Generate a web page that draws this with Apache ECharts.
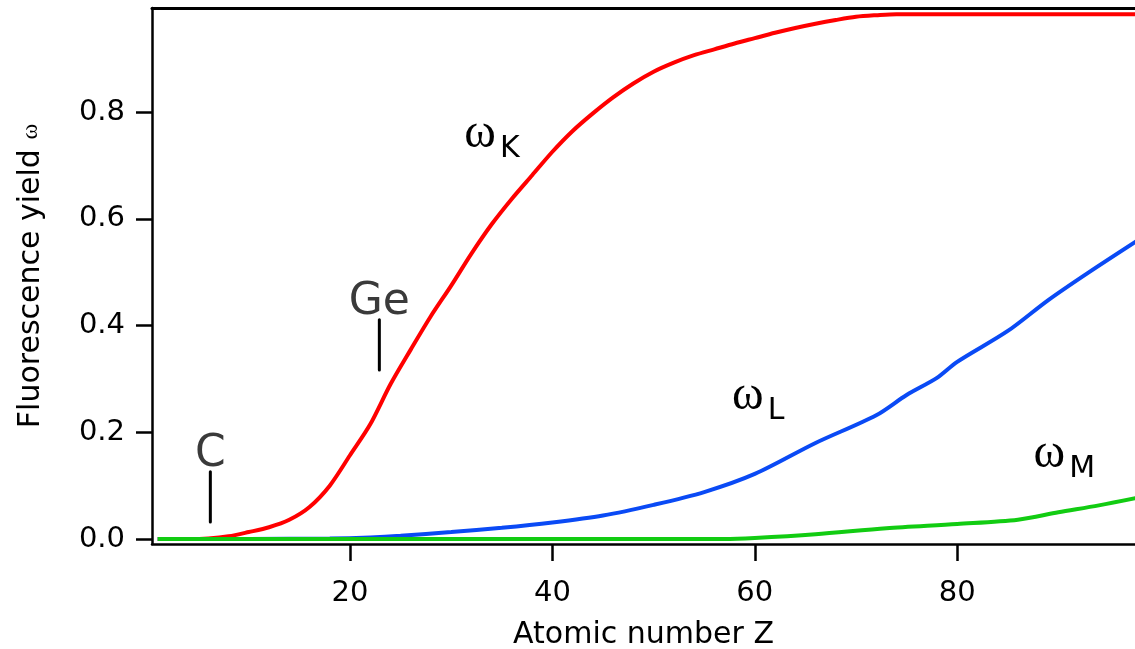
<!DOCTYPE html>
<html>
<head>
<meta charset="utf-8">
<script src="https://cdn.jsdelivr.net/npm/echarts@6/dist/echarts.min.js"></script>
<style>
  html, body { margin: 0; padding: 0; background: #ffffff; }
  #chart { width: 1135px; height: 649px; }
</style>
</head>
<body>
<div id="chart"></div>
<script>
// Fluorescence yields of the K, L and M shells against atomic number Z
const zK = [1, 4, 6, 8, 10, 12, 14, 16, 18, 20, 22, 24, 26, 28, 30, 32, 34, 36, 38, 40, 42, 44, 46, 48, 50, 52, 54, 56, 58, 60, 62, 64, 66, 68, 70, 72, 74, 80, 90, 98];
const omegaK = [0, 0, 0.001, 0.005, 0.013, 0.022, 0.036, 0.06, 0.1, 0.157, 0.215, 0.29, 0.355, 0.418, 0.475, 0.535, 0.59, 0.638, 0.682, 0.726, 0.765, 0.798, 0.828, 0.854, 0.876, 0.893, 0.907, 0.918, 0.929, 0.939, 0.949, 0.958, 0.966, 0.973, 0.979, 0.982, 0.984, 0.984, 0.984, 0.984];

const zL = [1, 10, 18, 22, 25, 30, 35, 40, 45, 50, 55, 60, 66, 72, 75, 78, 80, 85, 89, 93, 98];
const omegaL = [0, 0, 0.001, 0.003, 0.006, 0.013, 0.021, 0.031, 0.044, 0.064, 0.088, 0.122, 0.18, 0.232, 0.27, 0.302, 0.332, 0.39, 0.448, 0.5, 0.562];

const zM = [1, 57, 60, 66, 73, 80, 86, 90, 94, 98];
const omegaM = [0, 0, 0.002, 0.009, 0.02, 0.028, 0.036, 0.05, 0.063, 0.078];

const xTicks = [20, 40, 60, 80];
const yTicks = [0, 0.2, 0.4, 0.6, 0.8];

// shell labels: centre of the omega glyph in data units
const shellNames = ['K', 'L', 'M'];
const shellLabelPos = [[32.85, 0.759], [59.3, 0.267], [89.1, 0.159]];

// element markers: short vertical bars with the symbol above
const elementNames = ['C', 'Ge'];
const elementZ = [6.2, 22.9];
const elementBar = [[0.032, 0.126], [0.317, 0.411]];

const X_MIN = 0.435, X_MAX = 97.57;
const Y_MIN = -0.0094, Y_MAX = 0.9955;

const SANS = '"DejaVu Sans", sans-serif';
const SERIF = '"Liberation Serif", "DejaVu Serif", serif';

const zip = (xs, ys) => xs.map((x, i) => [x, ys[i]]);

const chart = echarts.init(document.getElementById('chart'), null, { renderer: 'canvas' });

const curveSeries = [
  { name: 'ωK', data: zip(zK, omegaK), color: '#ff0000' },
  { name: 'ωL', data: zip(zL, omegaL), color: '#0a4af5' },
  { name: 'ωM', data: zip(zM, omegaM), color: '#12cc12' }
].map(s => ({
  type: 'line',
  name: s.name,
  data: s.data,
  showSymbol: false,
  symbol: 'none',
  smooth: 0.3,
  clip: true,
  lineStyle: { color: s.color, width: 4 },
  z: 3
}));

const markerSeries = elementNames.map((n, i) => ({
  type: 'line',
  name: n,
  data: [[elementZ[i], elementBar[i][0]], [elementZ[i], elementBar[i][1]]],
  symbol: 'none',
  showSymbol: false,
  lineStyle: { color: '#000', width: 3, cap: 'round' },
  z: 4
}));

chart.setOption({
  animation: false,
  backgroundColor: '#ffffff',
  grid: { left: 152, right: 0, top: 8, bottom: 105, containLabel: false, outerBoundsMode: 'none' },
  xAxis: [{
    type: 'value',
    min: X_MIN,
    max: X_MAX,
    name: 'Atomic number Z',
    nameLocation: 'middle',
    nameGap: 76,
    nameTextStyle: { fontFamily: SANS, fontSize: 30, color: '#000' },
    axisLine: { show: true, onZero: false, lineStyle: { color: '#000', width: 2.5 } },
    axisTick: { show: true, inside: false, length: 17, customValues: xTicks, lineStyle: { color: '#000', width: 2.5 } },
    axisLabel: { show: true, customValues: xTicks, margin: 35, fontFamily: SANS, fontSize: 29, color: '#000' },
    splitLine: { show: false }
  }, {
    type: 'value',
    position: 'top',
    min: X_MIN,
    max: X_MAX,
    axisLine: { show: true, onZero: false, lineStyle: { color: '#000', width: 3 } },
    axisTick: { show: false },
    axisLabel: { show: false },
    splitLine: { show: false }
  }],
  yAxis: {
    type: 'value',
    min: Y_MIN,
    max: Y_MAX,
    name: 'Fluorescence yield {w|ω}',
    nameLocation: 'middle',
    nameGap: 106,
    nameTextStyle: {
      fontFamily: SANS, fontSize: 30, color: '#000',
      rich: { w: { fontFamily: SERIF, fontSize: 24, color: '#000' } }
    },
    axisLine: { show: true, onZero: false, lineStyle: { color: '#000', width: 2.5 } },
    axisTick: { show: true, inside: false, length: 16, customValues: yTicks, lineStyle: { color: '#000', width: 2.5 } },
    axisLabel: {
      show: true, customValues: yTicks, margin: 27,
      fontFamily: SANS, fontSize: 29, color: '#000',
      formatter: v => v.toFixed(1)
    },
    splitLine: { show: false }
  },
  series: curveSeries.concat(markerSeries)
});

// annotations anchored to data coordinates
function placeAnnotations() {
  const els = [];
  shellNames.forEach((n, i) => {
    const p = chart.convertToPixel({ seriesIndex: 0 }, shellLabelPos[i]);
    els.push({
      type: 'text', x: p[0], y: p[1], z: 10,
      style: { text: 'ω', fontFamily: SERIF, fontSize: 48, fill: '#000', align: 'center', verticalAlign: 'middle' }
    });
    els.push({
      type: 'text', x: p[0] + 20, y: p[1] + 15, z: 10,
      style: { text: n, fontFamily: SANS, fontSize: 30, fill: '#000', align: 'left', verticalAlign: 'middle' }
    });
  });
  elementNames.forEach((n, i) => {
    const p = chart.convertToPixel({ seriesIndex: 0 }, [elementZ[i], elementBar[i][1]]);
    els.push({
      type: 'text', x: p[0], y: p[1] - 17, z: 10,
      style: { text: n, fontFamily: SANS, fontSize: 44, fill: '#3a3a3a', align: 'center', verticalAlign: 'middle' }
    });
  });
  chart.setOption({ graphic: { elements: els } });
}
placeAnnotations();
</script>
</body>
</html>
